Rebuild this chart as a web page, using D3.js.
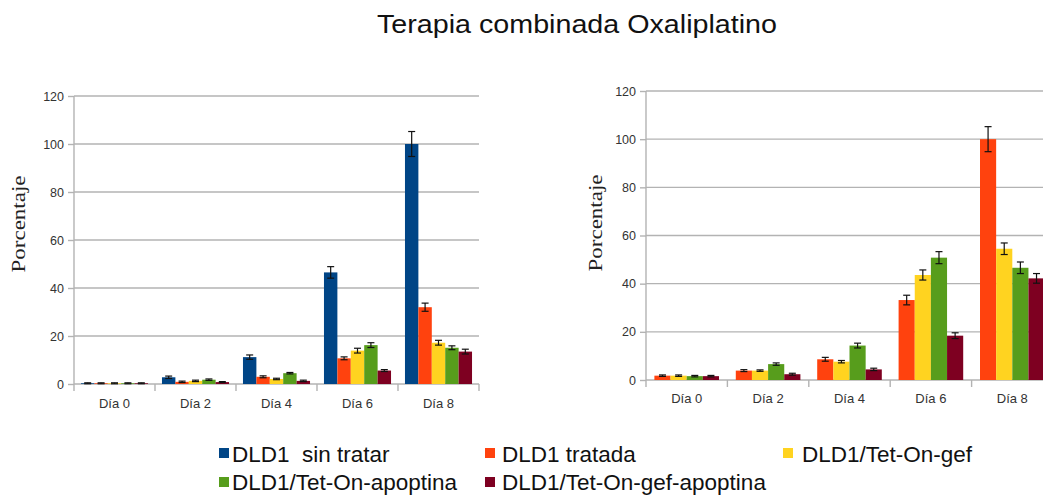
<!DOCTYPE html>
<html>
<head>
<meta charset="utf-8">
<script src="https://cdn.jsdelivr.net/npm/d3@7/dist/d3.min.js"></script>
<style>
  html, body { margin: 0; padding: 0; background: #ffffff; }
  svg { display: block; }
</style>
</head>
<body>
<svg id="chart" width="1043" height="495"></svg>
<script>
// ---- data ----
const categories = ["Día 0", "Día 2", "Día 4", "Día 6", "Día 8"];
const seriesNames = ["DLD1  sin tratar", "DLD1 tratada", "DLD1/Tet-On-gef", "DLD1/Tet-On-apoptina", "DLD1/Tet-On-gef-apoptina"];
const seriesColors = ["#004586", "#ff420e", "#ffd320", "#579d1c", "#7e0021"];
const yTicks = [0, 20, 40, 60, 80, 100, 120];

// left panel: all five lines
const sinTratarA   = [0.3, 2.8, 11.2, 46.5, 100];
const tratadaA     = [0.3, 0.9, 3.0, 10.7, 32];
const gefA         = [0.3, 1.3, 2.1, 13.9, 17.2];
const apoptinaA    = [0.3, 1.8, 4.5, 16.2, 15.1];
const gefApoA      = [0.3, 0.8, 1.3, 5.6, 13.5];
const errSinTratarA = [0.2, 0.5, 0.9, 2.4, 5.2];
const errTratadaA   = [0.2, 0.3, 0.4, 0.6, 1.7];
const errGefA       = [0.2, 0.3, 0.3, 1.0, 1.0];
const errApoptinaA  = [0.2, 0.3, 0.3, 1.0, 0.8];
const errGefApoA    = [0.2, 0.2, 0.3, 0.4, 1.0];

// right panel: treated lines only
const tratadaB   = [1.8, 3.9, 8.6, 33.2, 100];
const gefB       = [1.8, 3.9, 7.6, 43.6, 54.5];
const apoptinaB  = [1.6, 6.6, 14.3, 50.8, 46.6];
const gefApoB    = [1.6, 2.4, 4.4, 18.4, 42.2];
const errTratadaB  = [0.3, 0.4, 0.8, 2.0, 5.2];
const errGefB      = [0.3, 0.3, 0.5, 2.1, 2.4];
const errApoptinaB = [0.3, 0.5, 1.0, 2.5, 2.4];
const errGefApoB   = [0.3, 0.4, 0.5, 1.2, 2.0];

const panels = [
  {
    series: [0, 1, 2, 3, 4],
    values: [sinTratarA, tratadaA, gefA, apoptinaA, gefApoA],
    errors: [errSinTratarA, errTratadaA, errGefA, errApoptinaA, errGefApoA],
    x0: 74, x1: 479, yTop: 96, yBot: 384, labelX: 19, labelY: 224, catLabelY: 408
  },
  {
    series: [1, 2, 3, 4],
    values: [tratadaB, gefB, apoptinaB, gefApoB],
    errors: [errTratadaB, errGefB, errApoptinaB, errGefApoB],
    x0: 646, x1: 1053, yTop: 91, yBot: 380, labelX: 596, labelY: 223, catLabelY: 403
  }
];

const svg = d3.select("#chart");
const W = 1043;
const sans = "'Liberation Sans', Arial, sans-serif";
const serif = "'Liberation Serif', 'Times New Roman', serif";
const gridColor = "#b3b3b3";
const textColor = "#333333";

// title
svg.append("text")
  .attr("x", 577).attr("y", 33)
  .attr("text-anchor", "middle")
  .style("font-family", sans)
  .attr("font-size", 26)
  .attr("textLength", 400).attr("lengthAdjust", "spacingAndGlyphs")
  .attr("fill", "#111")
  .text("Terapia combinada Oxaliplatino");

panels.forEach(p => {
  const g = svg.append("g");
  const y = d3.scaleLinear().domain([0, 120]).range([p.yBot, p.yTop]);
  const x = d3.scaleBand().domain(categories).range([p.x0, p.x1]).paddingInner(0).paddingOuter(0);
  const xs = d3.scaleBand().domain(p.series).range([0, x.bandwidth()]).paddingInner(0).paddingOuter(0.52);

  // horizontal grid
  g.selectAll("line.grid").data(yTicks).join("line")
    .attr("x1", p.x0).attr("x2", Math.min(p.x1, W))
    .attr("y1", d => y(d)).attr("y2", d => y(d))
    .attr("stroke", gridColor).attr("stroke-width", 1.4);

  // y axis
  const yAxis = d3.axisLeft(y).tickValues(yTicks).tickSize(6).tickPadding(4);
  const ya = g.append("g").attr("transform", `translate(${p.x0},0)`).call(yAxis);
  ya.select(".domain").remove();
  ya.selectAll(".tick line").attr("stroke", gridColor).attr("stroke-width", 1.4);
  ya.selectAll(".tick text").attr("font-size", 12.5).attr("fill", textColor)
    .style("font-family", sans);
  g.append("line")
    .attr("x1", p.x0).attr("x2", p.x0)
    .attr("y1", p.yTop).attr("y2", p.yBot + 7)
    .attr("stroke", gridColor).attr("stroke-width", 1.4);

  // x axis ticks at category boundaries
  const bounds = categories.map(c => x(c)).concat([x(categories[categories.length - 1]) + x.bandwidth()]);
  g.selectAll("line.xt").data(bounds.slice(1)).join("line")
    .attr("x1", d => d).attr("x2", d => d)
    .attr("y1", p.yBot).attr("y2", p.yBot + 7)
    .attr("stroke", gridColor).attr("stroke-width", 1.4);

  g.selectAll("text.cat").data(categories).join("text")
    .attr("x", d => x(d) + x.bandwidth() / 2)
    .attr("y", p.catLabelY)
    .attr("text-anchor", "middle")
    .style("font-family", sans)
    .attr("font-size", 13).attr("fill", textColor)
    .text(d => d);

  // bars
  const rows = [];
  p.series.forEach((s, si) => {
    categories.forEach((c, ci) => {
      rows.push({ s, c, v: p.values[si][ci], e: p.errors[si][ci] });
    });
  });

  g.selectAll("rect.bar").data(rows).join("rect")
    .attr("x", d => x(d.c) + xs(d.s))
    .attr("width", xs.bandwidth())
    .attr("y", d => y(d.v))
    .attr("height", d => y(0) - y(d.v))
    .attr("fill", d => seriesColors[d.s]);

  // error bars
  const cap = 3.5;
  const eg = g.selectAll("g.err").data(rows).join("g")
    .attr("transform", d => `translate(${x(d.c) + xs(d.s) + xs.bandwidth() / 2},0)`);
  eg.append("line")
    .attr("y1", d => y(d.v + d.e)).attr("y2", d => y(Math.max(0, d.v - d.e)))
    .attr("stroke", "#111").attr("stroke-width", 1.2);
  eg.append("line")
    .attr("x1", -cap).attr("x2", cap)
    .attr("y1", d => y(d.v + d.e)).attr("y2", d => y(d.v + d.e))
    .attr("stroke", "#111").attr("stroke-width", 1.2);
  eg.append("line")
    .attr("x1", -cap).attr("x2", cap)
    .attr("y1", d => y(Math.max(0, d.v - d.e))).attr("y2", d => y(Math.max(0, d.v - d.e)))
    .attr("stroke", "#111").attr("stroke-width", 1.2);

  // y axis title
  svg.append("text")
    .attr("transform", `translate(${p.labelX},${p.labelY}) rotate(-90)`)
    .attr("text-anchor", "middle")
    .attr("dy", "0.35em")
    .style("font-family", serif)
    .attr("font-size", 18)
    .attr("textLength", 97).attr("lengthAdjust", "spacingAndGlyphs")
    .attr("fill", "#222")
    .text("Porcentaje");
});

// legend
const legendItems = [
  { s: 0, sx: 219, tx: 232, row: 0 },
  { s: 1, sx: 485, tx: 502, row: 0 },
  { s: 2, sx: 783, tx: 802, row: 0 },
  { s: 3, sx: 219, tx: 232, row: 1 },
  { s: 4, sx: 485, tx: 502, row: 1 }
];
const rowSquareY = [448, 477];
const rowBaseline = [462, 490];
const lg = svg.append("g");
lg.selectAll("rect").data(legendItems).join("rect")
  .attr("x", d => d.sx).attr("y", d => rowSquareY[d.row])
  .attr("width", 10).attr("height", 10)
  .attr("fill", d => seriesColors[d.s]);
lg.selectAll("text").data(legendItems).join("text")
  .attr("x", d => d.tx).attr("y", d => rowBaseline[d.row])
  .style("font-family", sans)
  .attr("font-size", 22.5).attr("fill", "#111")
  .style("white-space", "pre")
  .text(d => seriesNames[d.s]);
</script>
</body>
</html>
